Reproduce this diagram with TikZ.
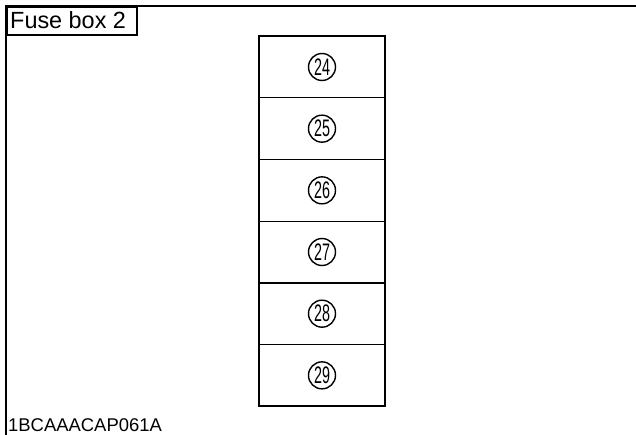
\documentclass[tikz,border=0pt]{standalone}
\usepackage{fontspec}
\setmainfont{Liberation Sans}
\begin{document}
\begin{tikzpicture}[x=1bp,y=-1bp,
  frameline/.style={line width=1.8bp},
  divline/.style={line width=0.9bp},
  fusenum/.style={circle,draw,line width=1.4bp,minimum size=27bp,inner sep=0pt,
    font=\fontsize{24}{24}\selectfont},
  lbl/.style={anchor=base west,inner sep=0pt}]
\useasboundingbox (0,0) rectangle (636,435);
% frame
\draw[frameline] (6,435) coordinate (fl) -- (6,6) coordinate (ftl) -- (636,6) coordinate (ftr);
% title box
\node[draw,line width=1.6bp,inner sep=0pt,minimum width=130bp,minimum height=28bp,anchor=north west] (title) at (6,6) {};
\node[lbl,font=\fontsize{23.5}{23.5}\selectfont] (titletext) at (10,29) {Fuse box 2};
% fuse box rows
\foreach \i/\n in {0/24,1/25,2/26,3/27,4/28,5/29}{
  \node[fusenum] (f\n) at (322,{36+61.67*\i+31}) {\scalebox{0.6}[1]{\n}};
}
\draw[divline] (259,97.7) -- (385,97.7);
\draw[divline] (259,159.3) -- (385,159.3);
\draw[divline] (259,221) -- (385,221);
\draw[frameline] (259,282.7) -- (385,282.7);
\draw[divline] (259,344.3) -- (385,344.3);
\draw[frameline] (259,36) rectangle (385,406);
% code
\node[lbl,font=\fontsize{18.5}{18.5}\selectfont] (code) at (8,431) {1BCAAACAP061A};
\end{tikzpicture}
\end{document}
